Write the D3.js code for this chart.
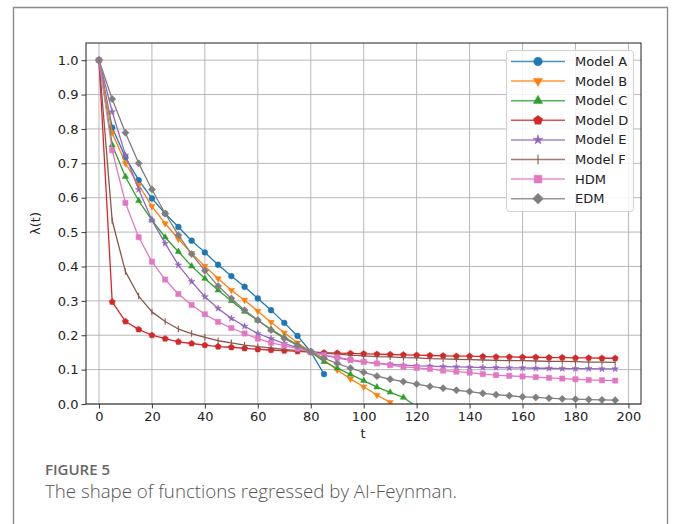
<!DOCTYPE html>
<html>
<head>
<meta charset="utf-8">
<script src="https://cdn.jsdelivr.net/npm/d3@7"></script>
<style>
  html, body { margin: 0; padding: 0; background: #fff; }
  svg { display: block; }
</style>
</head>
<body>
<svg id="chart" width="677" height="524"></svg>
<script>
// ---- data ----
const tValues = [0,5,10,15,20,25,30,35,40,45,50,55,60,65,70,75,80,85,90,95,
                 100,105,110,115,120,125,130,135,140,145,150,155,160,165,170,175,180,185,190,195];
const modelA = [1.0,0.804,0.717,0.651,0.598,0.554,0.515,0.475,0.441,0.405,0.372,0.341,0.307,0.273,0.236,0.198,0.152,0.087];
const modelB = [1.0,0.789,0.700,0.637,0.575,0.525,0.480,0.438,0.401,0.365,0.331,0.302,0.270,0.238,0.207,0.178,0.152,0.128,0.099,0.073,0.050,0.026,0.005];
const modelC = [1.0,0.753,0.661,0.591,0.535,0.485,0.443,0.401,0.365,0.331,0.300,0.269,0.243,0.217,0.194,0.172,0.152,0.123,0.104,0.086,0.068,0.049,0.034,0.019,-0.008];
const modelD = [1.0,0.297,0.240,0.217,0.200,0.190,0.181,0.176,0.171,0.167,0.165,0.162,0.159,0.157,0.155,0.153,0.151,0.149,0.148,0.147,0.146,0.145,0.144,0.143,0.142,0.141,0.140,0.139,0.139,0.138,0.137,0.137,0.136,0.136,0.135,0.135,0.134,0.134,0.133,0.133];
const modelE = [1.0,0.850,0.724,0.624,0.535,0.467,0.404,0.356,0.312,0.278,0.249,0.226,0.205,0.190,0.176,0.163,0.152,0.142,0.134,0.127,0.122,0.118,0.115,0.113,0.111,0.110,0.109,0.108,0.107,0.106,0.106,0.105,0.105,0.104,0.104,0.103,0.103,0.103,0.102,0.102];
const modelF = [1.0,0.533,0.385,0.314,0.268,0.240,0.218,0.205,0.194,0.184,0.178,0.171,0.167,0.163,0.159,0.155,0.152,0.148,0.145,0.142,0.140,0.138,0.137,0.135,0.134,0.132,0.131,0.130,0.129,0.128,0.127,0.126,0.126,0.125,0.124,0.124,0.123,0.122,0.122,0.121];
const hdm = [1.0,0.738,0.585,0.485,0.414,0.362,0.320,0.288,0.261,0.239,0.221,0.205,0.190,0.178,0.170,0.161,0.152,0.142,0.136,0.129,0.123,0.118,0.113,0.108,0.105,0.102,0.097,0.094,0.091,0.087,0.084,0.082,0.080,0.078,0.076,0.074,0.072,0.070,0.069,0.068];
const edm = [1.0,0.887,0.789,0.700,0.624,0.554,0.491,0.436,0.388,0.343,0.307,0.273,0.244,0.215,0.191,0.170,0.152,0.133,0.118,0.104,0.092,0.081,0.072,0.065,0.058,0.051,0.046,0.040,0.036,0.031,0.027,0.024,0.021,0.019,0.017,0.015,0.014,0.013,0.012,0.011];

const seriesNames = ["Model A","Model B","Model C","Model D","Model E","Model F","HDM","EDM"];
const seriesValues = [modelA, modelB, modelC, modelD, modelE, modelF, hdm, edm];
const seriesColors = ["#1f77b4","#ff7f0e","#2ca02c","#d62728","#9467bd","#8c564b","#e377c2","#7f7f7f"];
const seriesMarkers = ["circle","triDown","triUp","pentagon","star","vline","square","diamond"];

const xTicks = [0,20,40,60,80,100,120,140,160,180,200];
const yTicks = [0.0,0.1,0.2,0.3,0.4,0.5,0.6,0.7,0.8,0.9,1.0];
const xLabel = "t";
const yLabel = "λ(t)";
const captionTitle = "FIGURE 5";
const captionText = "The shape of functions regressed by AI-Feynman.";

// ---- layout ----
const svg = d3.select("#chart");
const plot = {left: 86, right: 641, top: 43, bottom: 404};

svg.append("rect").attr("width", 677).attr("height", 524).attr("fill", "#fff");
// outer figure frame
svg.append("path")
  .attr("d", "M13.5,530 L13.5,7.5 L667.5,7.5 L667.5,530")
  .attr("fill", "none").attr("stroke", "#8a8a8a").attr("stroke-width", 1.4);

const x = d3.scaleLinear().domain([-4.9, 204.75]).range([plot.left, plot.right]);
const y = d3.scaleLinear().domain([0, 1.05]).range([plot.bottom, plot.top]);

// grid
const grid = svg.append("g");
grid.selectAll("line.gx").data(xTicks).join("line")
  .attr("x1", d => x(d)).attr("x2", d => x(d))
  .attr("y1", plot.top).attr("y2", plot.bottom)
  .attr("stroke", "#b0b0b0").attr("stroke-width", 0.9);
grid.selectAll("line.gy").data(yTicks).join("line")
  .attr("y1", d => y(d)).attr("y2", d => y(d))
  .attr("x1", plot.left).attr("x2", plot.right)
  .attr("stroke", "#b0b0b0").attr("stroke-width", 0.9);

// clip
svg.append("clipPath").attr("id", "clip")
  .append("rect").attr("x", plot.left).attr("y", plot.top)
  .attr("width", plot.right - plot.left).attr("height", plot.bottom - plot.top);

// marker shapes
function markerPath(type, s) {
  const p = d3.path();
  if (type === "circle") { p.arc(0, 0, s, 0, 2 * Math.PI); }
  else if (type === "triUp" || type === "triDown") {
    const k = type === "triUp" ? 1 : -1;
    const r = s * 1.25;
    for (let i = 0; i < 3; i++) {
      const a = -Math.PI / 2 + i * 2 * Math.PI / 3;
      const px = r * Math.cos(a), py = k * r * Math.sin(a);
      i ? p.lineTo(px, py) : p.moveTo(px, py);
    }
    p.closePath();
  }
  else if (type === "pentagon") {
    const r = s * 1.12;
    for (let i = 0; i < 5; i++) {
      const a = -Math.PI / 2 + i * 2 * Math.PI / 5;
      i ? p.lineTo(r * Math.cos(a), r * Math.sin(a)) : p.moveTo(r * Math.cos(a), r * Math.sin(a));
    }
    p.closePath();
  }
  else if (type === "star") {
    const R = s * 1.2, r0 = R * 0.38;
    for (let i = 0; i < 10; i++) {
      const a = -Math.PI / 2 + i * Math.PI / 5;
      const rr = i % 2 ? r0 : R;
      i ? p.lineTo(rr * Math.cos(a), rr * Math.sin(a)) : p.moveTo(rr * Math.cos(a), rr * Math.sin(a));
    }
    p.closePath();
  }
  else if (type === "square") { p.rect(-s * 0.9, -s * 0.9, s * 1.8, s * 1.8); }
  else if (type === "diamond") {
    const r = s * 1.25;
    p.moveTo(0, -r); p.lineTo(r, 0); p.lineTo(0, r); p.lineTo(-r, 0); p.closePath();
  }
  else if (type === "vline") { p.moveTo(0, -s * 1.1); p.lineTo(0, s * 1.1); }
  return p.toString();
}

function drawMarker(g, type, color, s) {
  const path = g.append("path").attr("d", markerPath(type, s));
  if (type === "vline") path.attr("fill", "none").attr("stroke", color).attr("stroke-width", 1.1);
  else path.attr("fill", color).attr("stroke", color).attr("stroke-width", 0.5);
}

// series
const plotG = svg.append("g").attr("clip-path", "url(#clip)");
const line = d3.line().x(d => x(d[0])).y(d => y(d[1]));
seriesValues.forEach((vals, i) => {
  const pts = vals.map((v, j) => [tValues[j], v]);
  const g = plotG.append("g");
  g.append("path").datum(pts).attr("d", line)
    .attr("fill", "none").attr("stroke", seriesColors[i]).attr("stroke-width", 1.3)
    .attr("stroke-linejoin", "round");
  pts.forEach(pt => {
    const mg = g.append("g").attr("transform", `translate(${x(pt[0])},${y(pt[1])})`);
    drawMarker(mg, seriesMarkers[i], seriesColors[i], 2.9);
  });
});

// axes frame
svg.append("rect").attr("x", plot.left).attr("y", plot.top)
  .attr("width", plot.right - plot.left).attr("height", plot.bottom - plot.top)
  .attr("fill", "none").attr("stroke", "#222").attr("stroke-width", 1);

const font = "DejaVu Sans, sans-serif";
const xAxis = svg.append("g").attr("transform", `translate(0,${plot.bottom})`)
  .call(d3.axisBottom(x).tickValues(xTicks).tickSize(4.5).tickPadding(3).tickFormat(d3.format("d")));
const yAxis = svg.append("g").attr("transform", `translate(${plot.left},0)`)
  .call(d3.axisLeft(y).tickValues(yTicks).tickSize(4.5).tickPadding(3).tickFormat(d3.format(".1f")));
[xAxis, yAxis].forEach(a => {
  a.select(".domain").remove();
  a.selectAll(".tick line").attr("stroke", "#222").attr("stroke-width", 0.9);
  a.selectAll(".tick text").attr("font-family", font).attr("font-size", 13).attr("fill", "#222");
});

svg.append("text").attr("x", (plot.left + plot.right) / 2 - 0.5).attr("y", 438)
  .attr("text-anchor", "middle").attr("font-family", font).attr("font-size", 13).attr("fill", "#222")
  .text(xLabel);
svg.append("text").attr("transform", `translate(40,${(plot.top + plot.bottom) / 2}) rotate(-90)`)
  .attr("text-anchor", "middle").attr("font-family", font).attr("font-size", 13).attr("fill", "#222")
  .text(yLabel);

// legend
const leg = svg.append("g");
leg.append("rect").attr("x", 506.5).attr("y", 50.5).attr("width", 127).attr("height", 161)
  .attr("rx", 3).attr("fill", "#fff").attr("fill-opacity", 0.85)
  .attr("stroke", "#d0d0d0").attr("stroke-width", 1);
seriesNames.forEach((name, i) => {
  const cy = 61.5 + i * 19.6;
  leg.append("line").attr("x1", 511).attr("x2", 565).attr("y1", cy).attr("y2", cy)
    .attr("stroke", seriesColors[i]).attr("stroke-width", 1.5).attr("stroke-opacity", 0.8);
  const mg = leg.append("g").attr("transform", `translate(538,${cy})`);
  drawMarker(mg, seriesMarkers[i], seriesColors[i], 4.3);
  leg.append("text").attr("x", 575).attr("y", cy).attr("dy", "0.35em")
    .attr("font-family", font).attr("font-size", 13).attr("fill", "#222").text(name);
});

// caption
svg.append("text").attr("x", 45).attr("y", 474.5)
  .attr("font-family", "'Open Sans', sans-serif").attr("font-size", 15).attr("font-weight", 600)
  .attr("fill", "#666").text(captionTitle);
svg.append("text").attr("x", 45).attr("y", 497.5)
  .attr("font-family", "'Open Sans', sans-serif").attr("font-size", 18.7).attr("font-weight", 300)
  .attr("fill", "#555").text(captionText);
</script>
</body>
</html>
